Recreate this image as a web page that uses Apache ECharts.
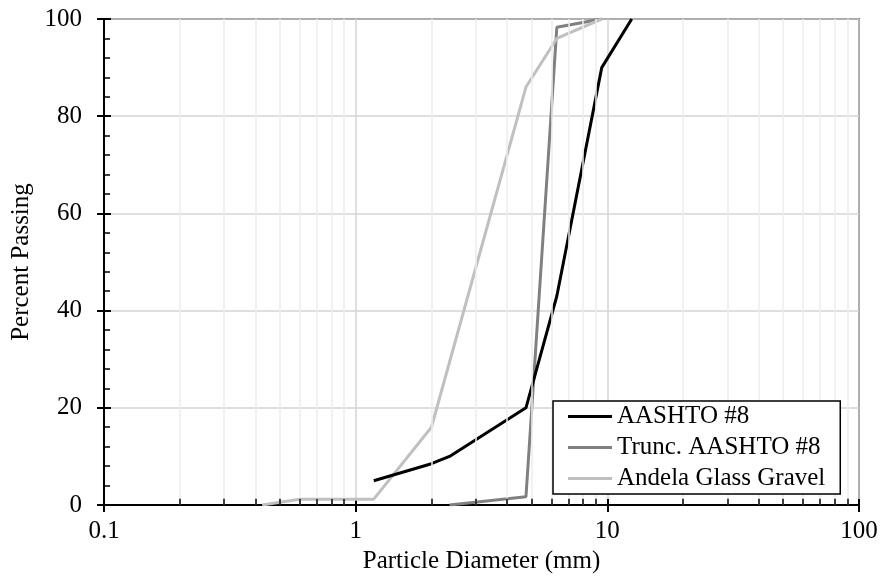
<!DOCTYPE html>
<html>
<head>
<meta charset="utf-8">
<script src="https://cdn.jsdelivr.net/npm/echarts@6/dist/echarts.min.js"></script>
<style>
html,body{margin:0;padding:0;background:#fff;}
#chart{width:885px;height:588px;}
</style>
</head>
<body>
<div id="chart"></div>
<script>
// sieve sizes (mm) and percent passing
var aashtoSize = [1.18, 2.0, 2.36, 4.75, 6.3, 9.5, 12.5];
var aashtoPass = [5, 8.5, 10, 20, 43, 90, 100];

var truncSize = [2.36, 4.75, 6.3, 9.5];
var truncPass = [0, 1.7, 98.3, 100];

var glassSize = [0.425, 0.6, 1.18, 2.0, 4.75, 6.3, 9.5];
var glassPass = [0, 1.2, 1.2, 16, 86, 96, 100];

var seriesNames = ['AASHTO #8', 'Trunc. AASHTO #8', 'Andela Glass Gravel'];
var seriesColors = ['#000000', '#808080', '#c0c0c0'];
var xTickLabels = ['0.1', '1', '10', '100'];
var yTicks = [0, 20, 40, 60, 80, 100];

// minor log positions (2..9 in each decade)
var minorX = [];
[0.1, 1, 10].forEach(function(d) {
	for (var k = 2; k <= 9; k++) minorX.push(+(d * k).toFixed(3));
});

function pairs(xs, ys) {
	return xs.map(function(x, i) { return [x, ys[i]]; });
}

var font = 'Liberation Serif, Times New Roman, serif';

var myChart = echarts.init(document.getElementById('chart'));
var option = {
	animation: false,
	backgroundColor: '#fff',
	textStyle: { fontFamily: font, color: '#000' },
	grid: {
		left: 104, right: 26, top: 19, bottom: 83,
		show: true,
		borderColor: '#000',
		borderWidth: 1.5
	},
	legend: {
		data: seriesNames.map(function(n) { return { name: n, icon: 'rect' }; }),
		orient: 'vertical',
		left: 553,
		top: 401,
		z: 10,
		padding: [3, 15, 3, 15],
		itemGap: 6,
		itemWidth: 44,
		itemHeight: 3,
		borderColor: '#000',
		borderWidth: 1.5,
		backgroundColor: '#fff',
		textStyle: { fontFamily: font, fontSize: 25, color: '#000' }
	},
	xAxis: [{
		type: 'log',
		logBase: 10,
		min: 0.1,
		max: 100,
		name: 'Particle Diameter (mm)',
		nameLocation: 'middle',
		nameGap: 39,
		nameTextStyle: { fontFamily: font, fontSize: 25, color: '#000' },
		axisLine: { lineStyle: { color: '#000', width: 2 } },
		axisTick: { inside: true, length: 6, lineStyle: { color: '#000', width: 2 } },
		axisLabel: {
			margin: 14,
			fontFamily: font,
			fontSize: 25,
			color: '#000',
			formatter: function(v) {
				var s = String(+v.toPrecision(3));
				return xTickLabels.indexOf(s) >= 0 ? s : '';
			}
		},
		splitLine: { show: true, lineStyle: { color: '#d4d4d4', width: 1.5 } }
	}, {
		type: 'log',
		logBase: 10,
		min: 0.1,
		max: 100,
		position: 'bottom',
		axisLine: { show: false },
		axisTick: { inside: false, length: 7, lineStyle: { color: '#000', width: 2 } },
		axisLabel: { show: false },
		splitLine: { show: false }
	}],
	yAxis: [{
		type: 'value',
		min: 0,
		max: 100,
		interval: 20,
		name: 'Percent Passing',
		nameLocation: 'middle',
		nameGap: 70,
		nameTextStyle: { fontFamily: font, fontSize: 25, color: '#000' },
		axisLine: { show: true, lineStyle: { color: '#000', width: 2 } },
		axisTick: { show: true, inside: true, length: 7, lineStyle: { color: '#000', width: 2 } },
		minorTick: { show: true, splitNumber: 5, length: 6, lineStyle: { color: '#000', width: 1.5 } },
		axisLabel: {
			margin: 22,
			fontFamily: font,
			fontSize: 25,
			color: '#000',
			formatter: function(v) { return yTicks.indexOf(v) >= 0 ? String(v) : ''; }
		},
		splitLine: { show: true, lineStyle: { color: '#d4d4d4', width: 1.5 } }
	}, {
		type: 'value',
		min: 0,
		max: 100,
		interval: 20,
		position: 'left',
		axisLine: { show: false },
		axisTick: { show: true, inside: false, length: 7, lineStyle: { color: '#000', width: 2 } },
		axisLabel: { show: false },
		splitLine: { show: false }
	}],
	series: [{
		// minor grid + minor ticks on the log axis
		name: 'minor',
		type: 'line',
		data: [],
		silent: true,
		z: 1,
		markLine: {
			silent: true,
			symbol: ['none', 'none'],
			label: { show: false },
			animation: false,
			data: minorX.map(function(v) {
				return { xAxis: v, lineStyle: { color: '#ececec', width: 1.5, type: 'solid' } };
			}).concat(minorX.map(function(v) {
				return [
					{ coord: [v, 0], lineStyle: { color: '#000', width: 1.5, type: 'solid' } },
					{ coord: [v, 1.3] }
				];
			}))
		}
	}, {
		name: seriesNames[0],
		type: 'line',
		data: pairs(aashtoSize, aashtoPass),
		symbol: 'none',
		z: 4,
		lineStyle: { color: seriesColors[0], width: 3 },
		itemStyle: { color: seriesColors[0] }
	}, {
		name: seriesNames[1],
		type: 'line',
		data: pairs(truncSize, truncPass),
		symbol: 'none',
		z: 3,
		lineStyle: { color: seriesColors[1], width: 3 },
		itemStyle: { color: seriesColors[1] }
	}, {
		name: seriesNames[2],
		type: 'line',
		data: pairs(glassSize, glassPass),
		symbol: 'none',
		z: 3,
		lineStyle: { color: seriesColors[2], width: 3 },
		itemStyle: { color: seriesColors[2] }
	}]
};
myChart.setOption(option);

window.addEventListener('resize', function() {
	myChart.resize();
});
</script>
</body>
</html>
